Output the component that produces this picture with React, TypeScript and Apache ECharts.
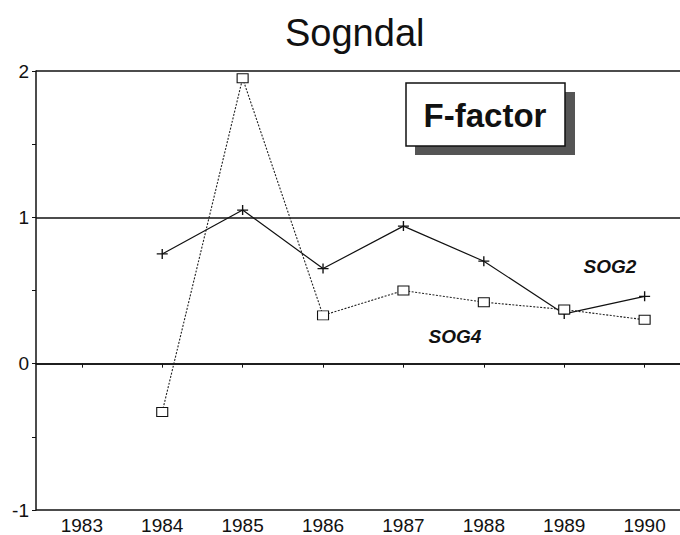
import React, { useEffect, useRef } from "react";
import * as echarts from "echarts";

const years = [1984, 1985, 1986, 1987, 1988, 1989, 1990];
const sog2 = [0.75, 1.05, 0.65, 0.94, 0.7, 0.34, 0.46];
const sog4 = [-0.33, 1.95, 0.33, 0.5, 0.42, 0.37, 0.3];
const xTickYears = [1983, 1984, 1985, 1986, 1987, 1988, 1989, 1990];
const titleText = "Sogndal";
const boxText = "F-factor";
const seriesNames = ["SOG2", "SOG4"];

const FONT = "'Liberation Sans', Arial, Helvetica, sans-serif";
const PLUS = "path://M5,0 L5,10 M0,5 L10,5";

export default function App() {
  const ref = useRef<HTMLDivElement>(null);
  useEffect(() => {
    if (!ref.current) return;
    const chart = echarts.init(ref.current, null, { renderer: "svg" });
    chart.setOption({
      animation: false,
      backgroundColor: "#ffffff",
      title: {
        text: titleText,
        left: 280,
        top: 9,
        textStyle: { fontFamily: FONT, fontSize: 38, fontWeight: "normal", color: "#111" },
      },
      grid: { left: 36, right: 0, top: 71, bottom: 25 },
      xAxis: {
        type: "value",
        min: 1982.43,
        max: 1990.44,
        axisLine: { show: true, lineStyle: { color: "#111", width: 1.5 } },
        axisTick: { show: true, length: 4, customValues: xTickYears, lineStyle: { color: "#111" } },
        axisLabel: {
          customValues: xTickYears,
          color: "#111",
          fontFamily: FONT,
          fontSize: 19,
          margin: 6,
          formatter: (v: number) => String(Math.round(v)),
        },
        splitLine: { show: false },
      },
      yAxis: {
        type: "value",
        min: -1,
        max: 2,
        interval: 1,
        axisLine: { show: true, lineStyle: { color: "#111", width: 1.5 } },
        axisTick: { show: true, length: 4, lineStyle: { color: "#111" } },
        minorTick: { show: true, splitNumber: 2, length: 4, lineStyle: { color: "#111" } },
        axisLabel: { color: "#111", fontFamily: FONT, fontSize: 19, margin: 7 },
        splitLine: { show: true, lineStyle: { color: "#111", width: 1.5 } },
      },
      graphic: [
        {
          type: "rect",
          shape: { x: 415, y: 92, width: 160, height: 63 },
          style: { fill: "#555" },
          z: 100,
        },
        {
          type: "rect",
          shape: { x: 406, y: 83, width: 159, height: 63 },
          style: { fill: "#fff", stroke: "#111", lineWidth: 1.5 },
          z: 101,
        },
        {
          type: "text",
          x: 485,
          y: 115,
          style: {
            text: boxText,
            font: `bold 33px ${FONT}`,
            fill: "#111",
            align: "center",
            verticalAlign: "middle",
          },
          z: 102,
        },
        {
          type: "text",
          x: 610,
          y: 266,
          style: {
            text: seriesNames[0],
            font: `italic bold 19px ${FONT}`,
            fill: "#111",
            align: "center",
            verticalAlign: "middle",
          },
          z: 102,
        },
        {
          type: "text",
          x: 455,
          y: 336,
          style: {
            text: seriesNames[1],
            font: `italic bold 19px ${FONT}`,
            fill: "#111",
            align: "center",
            verticalAlign: "middle",
          },
          z: 102,
        },
      ],
      series: [
        {
          name: seriesNames[0],
          type: "line",
          data: years.map((y, i) => [y, sog2[i]]),
          symbol: PLUS,
          symbolSize: [11, 10],
          showAllSymbol: true,
          lineStyle: { color: "#111", width: 1.2 },
          itemStyle: { color: "none", borderColor: "#111", borderWidth: 1.3 },
          z: 3,
        },
        {
          name: seriesNames[1],
          type: "line",
          data: years.map((y, i) => [y, sog4[i]]),
          symbol: "rect",
          symbolSize: [11, 9],
          showAllSymbol: true,
          lineStyle: { color: "#222", width: 1.1, type: [2, 1.5] },
          itemStyle: { color: "#fff", borderColor: "#111", borderWidth: 1 },
          z: 4,
        },
      ],
    });
    return () => chart.dispose();
  }, []);
  return (
    <div
      ref={ref}
      style={{ position: "absolute", left: 0, top: 0, width: 680, height: 535 }}
    />
  );
}
